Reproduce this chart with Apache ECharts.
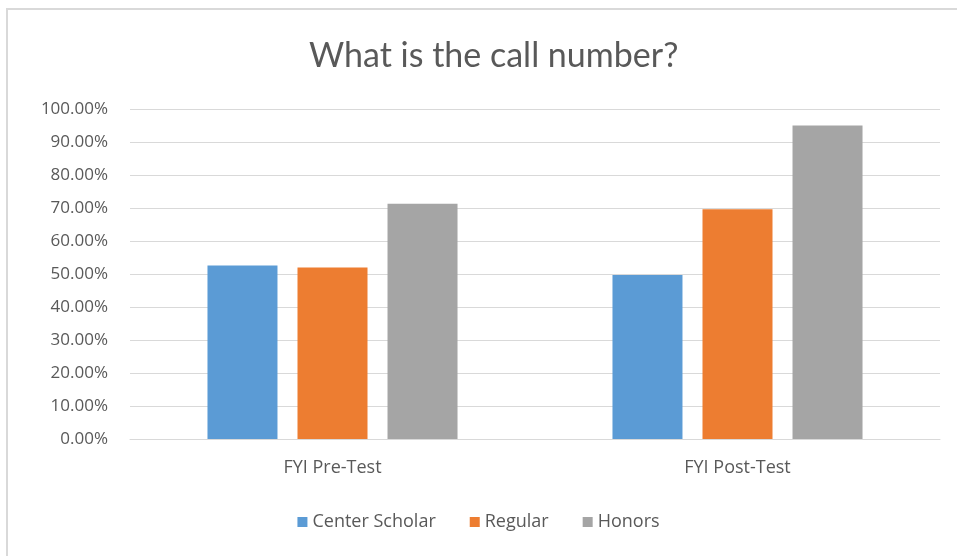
<!DOCTYPE html>
<html><head><meta charset="utf-8">
<script src="https://cdn.jsdelivr.net/npm/echarts@6/dist/echarts.min.js"></script>
<style>html,body{margin:0;padding:0;background:#fff}#c{width:957px;height:556px}</style>
</head><body><div id="c"></div>
<script>
var categories = ['FYI Pre-Test', 'FYI Post-Test'];
var centerScholar = [52.6, 49.7];
var regular = [52.0, 69.6];
var honors = [71.3, 95.0];
var seriesNames = ['Center Scholar', 'Regular', 'Honors'];

var font = 'Open Sans';
var chart = echarts.init(document.getElementById('c'));
function mk(name, data, color) {
  return {name: name, type: 'bar', data: data, barWidth: 70, barGap: '28.6%',
    itemStyle: {color: color}};
}
chart.setOption({
  animation: false,
  title: {text: 'What is the call number?', left: 304, top: 34,
    textStyle: {fontFamily: 'Lato', fontWeight: 'normal', fontSize: 34, color: '#595959'}},
  graphic: [{type: 'polyline', shape: {points: [[7, 556], [7, 9], [957, 9]]},
    style: {stroke: '#d9d9d9', lineWidth: 2, fill: null}}],
  grid: {left: 130, right: 17, top: 109, bottom: 117, containLabel: false},
  legend: {bottom: 20, left: 'center', itemWidth: 10, itemHeight: 10, itemGap: 34,
    icon: 'rect', textStyle: {fontFamily: font, fontSize: 18, color: '#595959'},
    data: seriesNames},
  xAxis: {type: 'category', data: categories,
    axisLine: {lineStyle: {color: '#d9d9d9', width: 1}}, axisTick: {show: false},
    axisLabel: {fontFamily: font, fontSize: 18, color: '#595959', margin: 20}},
  yAxis: {type: 'value', min: 0, max: 100, interval: 10,
    axisLine: {show: false}, axisTick: {show: false},
    splitLine: {lineStyle: {color: '#d9d9d9', width: 1}},
    axisLabel: {fontFamily: font, fontSize: 17, color: '#595959', margin: 22,
      formatter: function (v) { return v.toFixed(2) + '%'; }}},
  series: [mk(seriesNames[0], centerScholar, '#5B9BD5'),
           mk(seriesNames[1], regular, '#ED7D31'),
           mk(seriesNames[2], honors, '#A5A5A5')]
});
</script></body></html>
